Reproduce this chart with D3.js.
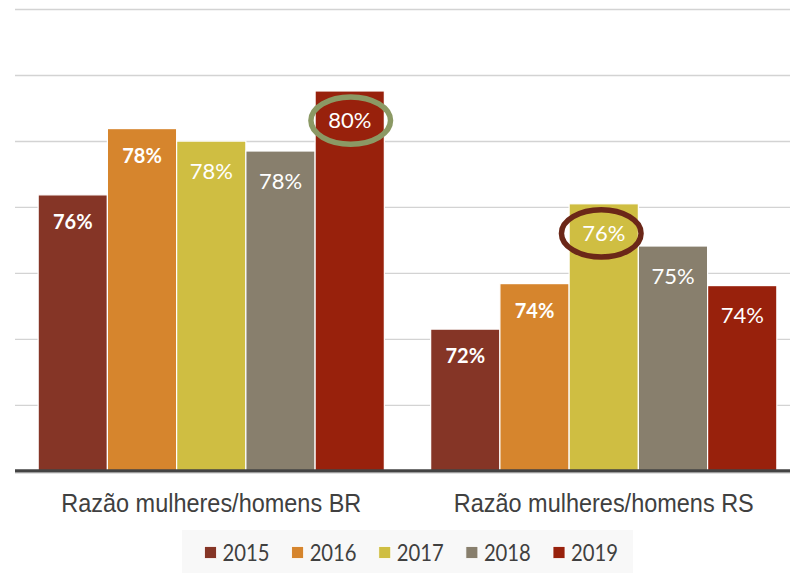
<!DOCTYPE html>
<html>
<head>
<meta charset="utf-8">
<script src="https://cdn.jsdelivr.net/npm/d3@7/dist/d3.min.js"></script>
<style>
  html, body { margin: 0; padding: 0; background: #fff; }
  svg { display: block; }
</style>
</head>
<body>
<svg id="chart" width="790" height="573"></svg>
<script>
// ---- data ----
const groups = ["Razão mulheres/homens BR", "Razão mulheres/homens RS"];
const years = ["2015", "2016", "2017", "2018", "2019"];
const valuesBR = [76.38, 78.39, 78.01, 77.71, 79.53];
const valuesRS = [72.31, 73.69, 76.11, 74.83, 73.63];
const yTicks = [70, 72, 74, 76, 78, 80, 82];
const yMin = 68, yMax = 82;
const colors = ["#853526", "#d6852d", "#cfbe42", "#887f6d", "#98210c"];
const boldYears = ["2015", "2016"];
const highlights = [
  { group: 0, year: "2019", color: "#8b9964", dx: 1 },
  { group: 1, year: "2017", color: "#6b2718", dx: -2.5 }
];

const seriesByGroup = [valuesBR, valuesRS];
const rows = [];
groups.forEach((g, gi) => years.forEach((yr, yi) => rows.push({ gi, group: g, year: yr, yi, value: seriesByGroup[gi][yi] })));

// ---- scales ----
const svg = d3.select("#chart");
const W = 790, H = 573;
svg.append("rect").attr("width", W).attr("height", H).attr("fill", "#fff");

const y = d3.scaleLinear().domain([yMin, yMax]).range([471.3, 9.5]);
const x0 = d3.scaleBand().domain(groups).range([15, 800]).paddingInner(0.118).paddingOuter(0.059);
const x1 = d3.scaleBand().domain(years).range([0, x0.bandwidth()]).padding(0);
const color = d3.scaleOrdinal().domain(years).range(colors);

// ---- gridlines ----
svg.append("g").selectAll("line").data(yTicks).join("line")
  .attr("x1", 15).attr("x2", W)
  .attr("y1", d => y(d)).attr("y2", d => y(d))
  .attr("stroke", "#d3d3d3").attr("stroke-width", 1.4);

// ---- bars ----
const barX = d => x0(d.group) + x1(d.year);
svg.append("g").selectAll("rect").data(rows).join("rect")
  .attr("x", barX)
  .attr("y", d => y(d.value))
  .attr("width", x1.bandwidth())
  .attr("height", d => y(yMin) - y(d.value))
  .attr("fill", d => color(d.year))
  .attr("stroke", "#fff").attr("stroke-width", 1.2);

// ---- baseline ----
svg.append("line").attr("x1", 15).attr("x2", W).attr("y1", y(yMin) + 1.5).attr("y2", y(yMin) + 1.5)
  .attr("stroke", "#9a9a9a").attr("stroke-width", 1);
svg.append("line").attr("x1", 15).attr("x2", W).attr("y1", y(yMin) - 0.6).attr("y2", y(yMin) - 0.6)
  .attr("stroke", "#444", ).attr("stroke-width", 3);

// ---- value labels ----
const isBold = d => boldYears.includes(d.year);
const labelCenter = d => y(d.value) + (isBold(d) ? 27 : 29.6);
svg.append("g").selectAll("text").data(rows).join("text")
  .attr("x", d => barX(d) + x1.bandwidth() / 2)
  .attr("y", d => labelCenter(d) + (isBold(d) ? 7.2 : 7.9))
  .attr("text-anchor", "middle")
  .attr("font-family", "Lato, 'Open Sans', sans-serif")
  .attr("font-size", d => isBold(d) ? 20 : 22)
  .attr("font-weight", d => isBold(d) ? 700 : 400)
  .attr("fill", "#fff")
  .text(d => Math.round(d.value) + "%");

// ---- highlight ellipses ----
svg.append("g").selectAll("ellipse").data(highlights).join("ellipse")
  .attr("cx", h => x0(groups[h.group]) + x1(h.year) + x1.bandwidth() / 2 + h.dx)
  .attr("cy", h => {
    const v = seriesByGroup[h.group][years.indexOf(h.year)];
    return labelCenter({ value: v, year: h.year });
  })
  .attr("rx", 39.8).attr("ry", 23.6)
  .attr("fill", "none")
  .attr("stroke", h => h.color).attr("stroke-width", 5.5);

// ---- category labels ----
svg.append("g").selectAll("text").data(groups).join("text")
  .attr("x", g => x0(g) + x0.bandwidth() / 2)
  .attr("y", 511.5)
  .attr("text-anchor", "middle")
  .attr("font-family", "'Liberation Sans', Arial, sans-serif")
  .attr("font-size", 25.5)
  .attr("textLength", 300)
  .attr("lengthAdjust", "spacingAndGlyphs")
  .attr("fill", "#404040")
  .text(g => g);

// ---- legend ----
const legend = svg.append("g");
legend.append("rect").attr("x", 182).attr("y", 530).attr("width", 451).attr("height", 50).attr("fill", "#f8f8f8");
const legendX = d3.scalePoint().domain(years).range([204.5, 553]);
const items = legend.selectAll("g.item").data(years).join("g").attr("class", "item")
  .attr("transform", d => `translate(${legendX(d)},0)`);
items.append("rect").attr("x", 0).attr("y", 546.5).attr("width", 12).attr("height", 12)
  .attr("fill", d => color(d)).attr("stroke", "#fff").attr("stroke-width", 0.8);
items.append("text").attr("x", 18).attr("y", 560.5)
  .attr("font-family", "Lato, 'Open Sans', sans-serif")
  .attr("font-size", 24)
  .attr("textLength", 47)
  .attr("lengthAdjust", "spacingAndGlyphs")
  .attr("fill", "#404040")
  .text(d => d);
</script>
</body>
</html>
